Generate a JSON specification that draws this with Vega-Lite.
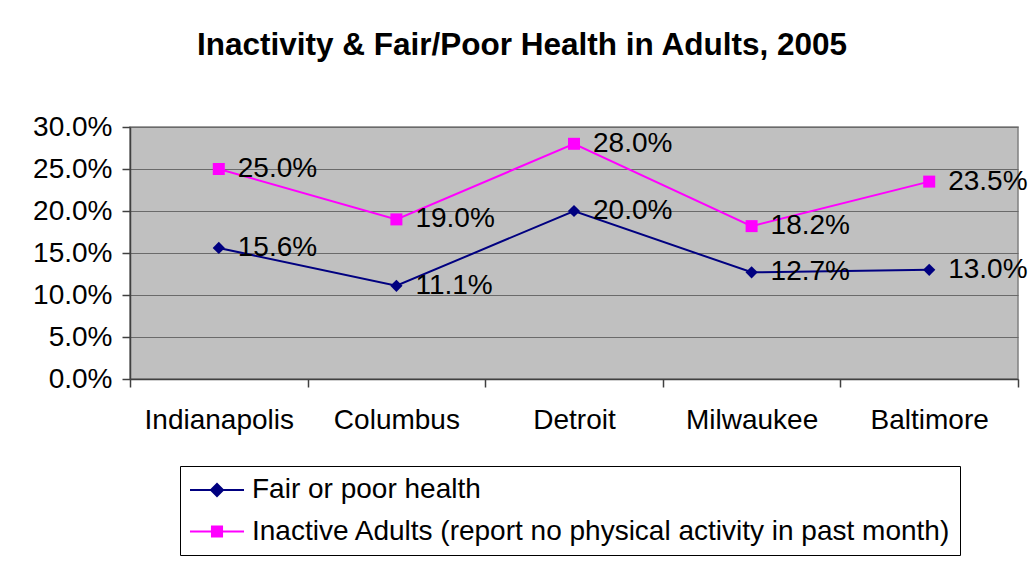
{
  "$schema": "https://vega.github.io/schema/vega-lite/v6.json",
  "width": 888,
  "height": 252,
  "autosize": "none",
  "padding": {"left": 130, "top": 127, "right": 12, "bottom": 186},
  "background": "white",
  "title": {
    "text": "Inactivity & Fair/Poor Health in Adults, 2005",
    "font": "Liberation Sans",
    "fontSize": 31.5,
    "fontWeight": "bold",
    "color": "black",
    "anchor": "middle",
    "baseline": "alphabetic",
    "dx": -52,
    "offset": 27
  },
  "config": {
    "font": "Liberation Sans",
    "view": {"fill": "#C0C0C0", "stroke": "#808080", "strokeWidth": 1.5}
  },
  "data": {
    "values": [
      {"city": "Indianapolis", "series": "Fair or poor health", "value": 0.156},
      {"city": "Columbus", "series": "Fair or poor health", "value": 0.111},
      {"city": "Detroit", "series": "Fair or poor health", "value": 0.200},
      {"city": "Milwaukee", "series": "Fair or poor health", "value": 0.127},
      {"city": "Baltimore", "series": "Fair or poor health", "value": 0.130},
      {"city": "Indianapolis", "series": "Inactive Adults (report no physical activity in past month)", "value": 0.250},
      {"city": "Columbus", "series": "Inactive Adults (report no physical activity in past month)", "value": 0.190},
      {"city": "Detroit", "series": "Inactive Adults (report no physical activity in past month)", "value": 0.280},
      {"city": "Milwaukee", "series": "Inactive Adults (report no physical activity in past month)", "value": 0.182},
      {"city": "Baltimore", "series": "Inactive Adults (report no physical activity in past month)", "value": 0.235}
    ]
  },
  "encoding": {
    "x": {
      "field": "city",
      "type": "nominal",
      "sort": ["Indianapolis", "Columbus", "Detroit", "Milwaukee", "Baltimore"],
      "scale": {"type": "band", "paddingInner": 0, "paddingOuter": 0},
      "axis": {
        "title": null,
        "labelAngle": 0,
        "labelFont": "Liberation Sans",
        "labelFontSize": 28,
        "labelColor": "black",
        "labelPadding": 19,
        "tickBand": "extent",
        "tickSize": 8,
        "tickColor": "#404040",
        "tickWidth": 1.5,
        "domainColor": "#404040",
        "domainWidth": 1.5,
        "grid": false
      }
    },
    "y": {
      "field": "value",
      "type": "quantitative",
      "scale": {"domain": [0, 0.3], "nice": false, "zero": true},
      "axis": {
        "title": null,
        "values": [0, 0.05, 0.1, 0.15, 0.2, 0.25, 0.3],
        "format": ".1%",
        "labelFont": "Liberation Sans",
        "labelFontSize": 28,
        "labelColor": "black",
        "labelPadding": 10,
        "tickSize": 8,
        "tickColor": "#404040",
        "tickWidth": 1.5,
        "domainColor": "#404040",
        "domainWidth": 1.5,
        "grid": true,
        "gridColor": "#6a6a6a",
        "gridWidth": 1.2
      }
    },
    "color": {
      "field": "series",
      "type": "nominal",
      "sort": ["Fair or poor health", "Inactive Adults (report no physical activity in past month)"],
      "scale": {
        "domain": ["Fair or poor health", "Inactive Adults (report no physical activity in past month)"],
        "range": ["#000080", "#FF00FF"]
      },
      "legend": {
        "title": null,
        "orient": "none",
        "legendX": 50,
        "legendY": 339,
        "direction": "vertical",
        "strokeColor": "#000000",
        "fillColor": "#FFFFFF",
        "padding": 9,
        "symbolOffset": 13,
        "symbolSize": 784,
        "symbolStrokeWidth": 2,
        "labelFont": "Liberation Sans",
        "labelFontSize": 28,
        "labelColor": "black",
        "labelOffset": 20,
        "labelLimit": 900,
        "rowPadding": 12.5,
        "encode": {
          "symbols": {
            "update": {
              "shape": {"signal": "datum.value === 'Fair or poor health' ? 'M-1.93,0H1.93M-0.43,0L0,-0.43L0.43,0L0,0.43Z' : 'M-1.93,0H1.93M-0.36,-0.36H0.36V0.36H-0.36Z'"},
              "fill": {"signal": "scale('color', datum.value)"},
              "stroke": {"signal": "scale('color', datum.value)"},
              "strokeWidth": {"value": 2},
              "opacity": {"value": 1},
              "fillOpacity": {"value": 1}
            }
          }
        }
      }
    }
  },
  "layer": [
    {
      "mark": {"type": "line", "strokeWidth": 2}
    },
    {
      "transform": [{"filter": "datum.series === 'Fair or poor health'"}],
      "mark": {"type": "point", "filled": true, "opacity": 1, "size": 150, "shape": "diamond"}
    },
    {
      "transform": [{"filter": "datum.series !== 'Fair or poor health'"}],
      "mark": {"type": "point", "filled": true, "opacity": 1, "size": 144, "shape": "square"}
    },
    {
      "mark": {"type": "text", "align": "left", "baseline": "middle", "dx": 19, "fontSize": 28, "font": "Liberation Sans", "color": "black"},
      "encoding": {
        "text": {"field": "value", "type": "quantitative", "format": ".1%"},
        "color": {"value": "black"}
      }
    }
  ]
}
